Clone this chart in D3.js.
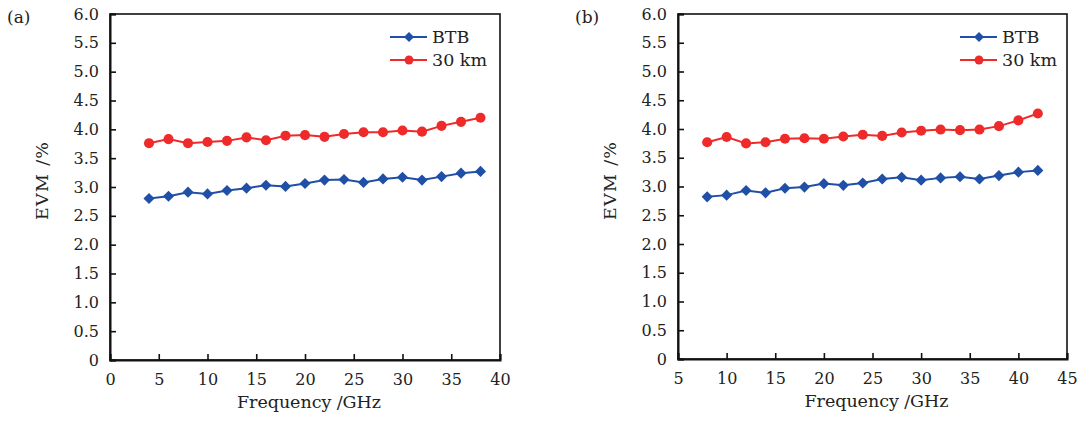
<!DOCTYPE html>
<html><head><meta charset="utf-8">
<script src="https://cdn.jsdelivr.net/npm/d3@7/dist/d3.min.js"></script>
<style>body{margin:0;background:#fff}svg{display:block}</style>
</head><body><svg id="c" width="1079" height="423"></svg>
<script>
const freqA = [4,6,8,10,12,14,16,18,20,22,24,26,28,30,32,34,36,38];
const btbA  = [2.80,2.84,2.91,2.88,2.94,2.98,3.03,3.01,3.06,3.12,3.13,3.08,3.14,3.17,3.12,3.18,3.24,3.27];
const km30A = [3.76,3.83,3.76,3.78,3.80,3.86,3.81,3.89,3.90,3.87,3.92,3.95,3.95,3.98,3.96,4.06,4.13,4.20];
const freqB = [8,10,12,14,16,18,20,22,24,26,28,30,32,34,36,38,40,42];
const btbB  = [2.82,2.85,2.93,2.89,2.97,2.99,3.05,3.02,3.06,3.13,3.16,3.11,3.15,3.17,3.13,3.19,3.25,3.28];
const km30B = [3.77,3.86,3.75,3.77,3.83,3.84,3.83,3.87,3.90,3.88,3.94,3.97,3.99,3.98,3.99,4.05,4.15,4.27];
const xTicksA = [0,5,10,15,20,25,30,35,40];
const xTicksB = [5,10,15,20,25,30,35,40,45];
const yTicks = [0,0.5,1.0,1.5,2.0,2.5,3.0,3.5,4.0,4.5,5.0,5.5,6.0];
const seriesNames = ["BTB","30 km"];
const colors = ["#1f4fa6","#ee2a2a"];
const FONT = "'DejaVu Serif', serif";

const svg = d3.select("#c");

function marker(si, big){
  if (si===0) return {sym:d3.symbol().type(d3.symbolSquare).size(big?62:50), rot:" rotate(45)"};
  return {sym:d3.symbol().type(d3.symbolCircle).size(big?80:62), rot:""};
}

function panel(opt){
  const g = svg.append("g");
  const x = d3.scaleLinear().domain(opt.xDomain).range([opt.x0, opt.x1]);
  const y = d3.scaleLinear().domain([0,6]).range([opt.y0, opt.y1]);
  g.append("rect").attr("x",opt.x0).attr("y",opt.y1).attr("width",opt.x1-opt.x0).attr("height",opt.y0-opt.y1)
    .attr("fill","none").attr("stroke","#111").attr("stroke-width",1.6);
  const xa = g.append("g").attr("transform",`translate(0,${opt.y0})`)
    .call(d3.axisBottom(x).tickValues(opt.xTicks).tickSize(-6).tickPadding(14).tickFormat(d3.format("d")));
  xa.select(".domain").attr("stroke","#111").attr("stroke-width",2);
  xa.selectAll(".tick line").attr("stroke","#111").attr("stroke-width",1.6);
  xa.selectAll("text").attr("font-family",FONT).attr("font-size",16).attr("fill","#222");
  const ya = g.append("g").attr("transform",`translate(${opt.x0},0)`)
    .call(d3.axisLeft(y).tickValues(yTicks).tickSize(-6).tickPadding(11).tickFormat(d=> d===0?"0":d3.format(".1f")(d)));
  ya.select(".domain").attr("stroke","#111").attr("stroke-width",2);
  ya.selectAll(".tick line").attr("stroke","#111").attr("stroke-width",1.6);
  ya.selectAll("text").attr("font-family",FONT).attr("font-size",16).attr("fill","#222");
  g.append("text").attr("x",(opt.x0+opt.x1)/2+4).attr("y",opt.y0+48).attr("text-anchor","middle")
    .attr("font-family",FONT).attr("font-size",17.5).attr("fill","#222")
    .attr("textLength",144).attr("lengthAdjust","spacing").text("Frequency /GHz");
  g.append("text").attr("transform",`translate(${opt.x0-62},181) rotate(-90)`)
    .attr("text-anchor","middle").attr("font-family",FONT).attr("font-size",17.5).attr("fill","#222")
    .attr("textLength",78).attr("lengthAdjust","spacing").text("EVM /%");
  g.append("text").attr("x",opt.labelX).attr("y",opt.y1+9).attr("font-family",FONT).attr("font-size",17).attr("fill","#222").text(opt.label);
  const data = [opt.btb, opt.km];
  const line = d3.line().x((d,i)=>x(opt.freq[i])).y(d=>y(d));
  data.forEach((vals,si)=>{
    g.append("path").datum(vals).attr("d",line).attr("fill","none").attr("stroke",colors[si]).attr("stroke-width",2);
    const m = marker(si,true);
    g.selectAll(null).data(vals).enter().append("path")
      .attr("transform",(d,i)=>`translate(${x(opt.freq[i])},${y(d)})`+m.rot)
      .attr("d",m.sym).attr("fill",colors[si]);
  });
  seriesNames.forEach((n,si)=>{
    const ly = opt.legY + si*23;
    g.append("line").attr("x1",opt.legX).attr("x2",opt.legX+37).attr("y1",ly).attr("y2",ly)
      .attr("stroke",colors[si]).attr("stroke-width",2);
    const m = marker(si,false);
    g.append("path").attr("transform",`translate(${opt.legX+19},${ly})`+m.rot).attr("d",m.sym).attr("fill",colors[si]);
    g.append("text").attr("x",opt.legX+42).attr("y",ly+6).attr("font-family",FONT).attr("font-size",17.5).attr("fill","#222").text(n);
  });
}

panel({xDomain:[0,40], x0:110, x1:500, y0:360, y1:14, xTicks:xTicksA, freq:freqA, btb:btbA, km:km30A,
  label:"(a)", labelX:7, legX:390, legY:37});
panel({xDomain:[5,45], x0:678, x1:1067, y0:359, y1:14, xTicks:xTicksB, freq:freqB, btb:btbB, km:km30B,
  label:"(b)", labelX:575, legX:960, legY:37});
</script></body></html>
